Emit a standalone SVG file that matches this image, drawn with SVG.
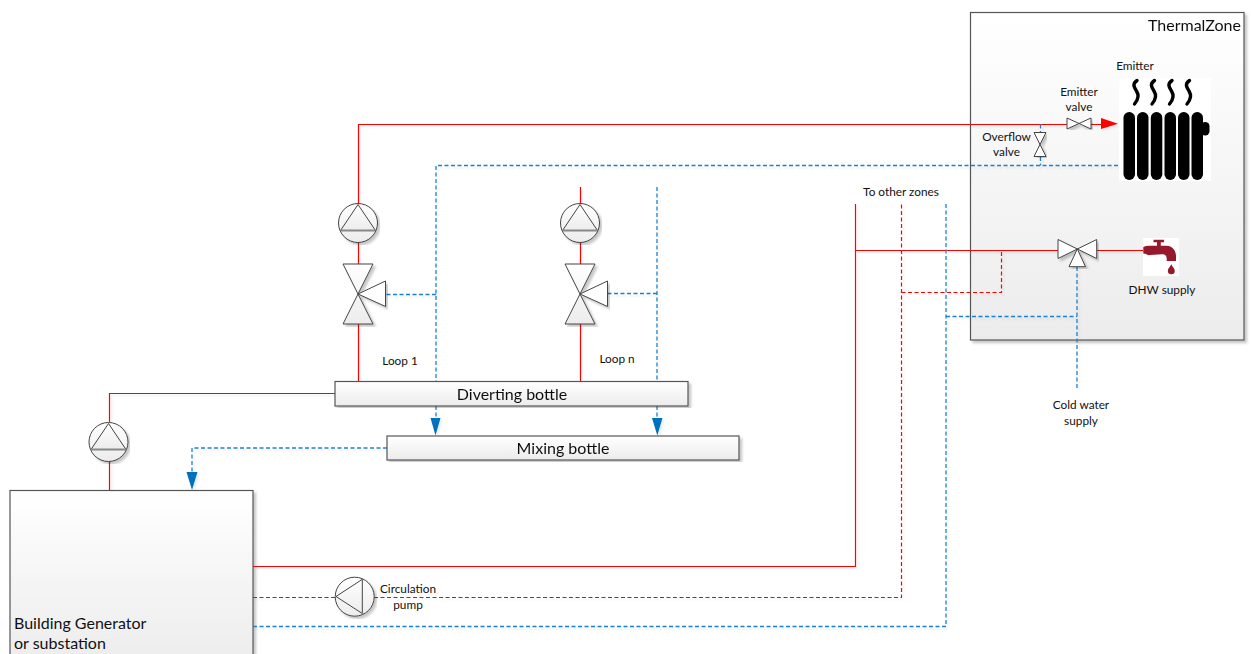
<svg xmlns="http://www.w3.org/2000/svg" width="1251" height="654" viewBox="0 0 1251 654">
<style>
text{font-family:"Lato","Carlito","Open Sans",sans-serif;fill:#111;text-anchor:middle}
.s{font-size:11.8px}.l{font-size:16px}
.box{stroke:#555;stroke-width:1.2;fill:url(#g)}
.r{fill:none;stroke:#f00;stroke-width:1.2}
.rd{fill:none;stroke:#f00;stroke-width:1.2;stroke-dasharray:4 2.5}
.b{fill:none;stroke:#1f80d0;stroke-width:1.3;stroke-dasharray:4 2.5}
.sym{fill:url(#g);stroke:#444;stroke-width:1}
.w{fill:#fff;stroke:#444;stroke-width:1}
.ba{fill:#0070c0}
.tap{fill:#96182c}
</style>
<defs>
<linearGradient id="g" x1="0" y1="0" x2="0" y2="1"><stop offset="0" stop-color="#fff"/><stop offset="1" stop-color="#ececec"/></linearGradient>
<filter id="sh" x="-5%" y="-5%" width="110%" height="110%"><feDropShadow dx="2.500" dy="2.500" stdDeviation="1.200" flood-color="#000" flood-opacity="0.22"/></filter>
<filter id="shl" x="-2%" y="-2%" width="104%" height="104%"><feDropShadow dx="2" dy="2" stdDeviation="0.800" flood-color="#000" flood-opacity="0.08"/></filter>
<g id="pump"><circle cx="0" cy="0" r="19.500" class="sym"/><path d="M0-18.500L17.500 7.500H-17.500Z" class="sym"/><path d="M-17.500 7.500H17.500" stroke="#888" stroke-width="2"/></g>
<g id="valve3"><path d="M-15-30H15L0 0ZM-15 30H15L0 0Z" class="sym"/><path d="M0 0L27.500-13V12.500Z" class="w"/></g>
</defs>

<g id="thermal-zone" filter="url(#sh)"><rect x="970.500" y="12.500" width="273.500" height="327.500" class="box"/><text x="1194.500" y="31" class="l">ThermalZone</text></g>
<g id="generator" filter="url(#sh)"><rect x="10" y="490.500" width="243" height="175" class="box"/></g>

<g id="connectors" filter="url(#shl)">
<path class="r" d="M358.500 205V124.500H1067M1091 124.500H1102"/>
<path class="r" d="M358.500 243V264M358.500 324V382"/>
<path class="r" d="M580.500 187V204M580.500 243V264M580.500 324V382"/>
<path class="r" d="M335 393.500H109.500V422M109.500 462V490"/>
<path class="r" d="M253 566.500H855.500V204M855.500 250.500H1058M1097 250.500H1143"/>
<path class="rd" d="M253 597.500H337M374 597.500H901.500V204M901.500 292.500H1001.500V250.500"/>
<path class="b" d="M1118 165.500H436V382M436 294.500H386M1040.500 124.500V132M1040.500 157V165.500"/>
<path class="b" d="M657 187V382M657 293.500H608"/>
<path class="b" d="M436 406V420M657 406V420"/>
<path class="b" d="M387 448H192V474"/>
<path class="b" d="M253 626.500H946V204M946 316.500H1077M1077 267V390"/>
<path class="ba" d="M430.500 418H440.500L435.500 435.500ZM652 418H662.500L657.300 435.500ZM186.500 472H197.500L192 490Z"/>
<path d="M1101 118L1118 123.700L1101 129Z" fill="#f00"/>
</g>

<g id="pump-loop1" filter="url(#sh)"><use href="#pump" x="358" y="223"/></g>
<g id="valve-loop1" filter="url(#sh)"><use href="#valve3" x="358" y="294"/></g>
<g id="pump-loopn" filter="url(#sh)"><use href="#pump" x="580" y="223"/></g>
<g id="valve-loopn" filter="url(#sh)"><use href="#valve3" x="580" y="294"/></g>
<g id="pump-generator" filter="url(#sh)"><use href="#pump" x="108.500" y="442"/></g>
<g id="pump-circulation" filter="url(#sh)"><circle cx="354.700" cy="596.700" r="19.500" class="sym"/><path d="M336 596.500L362.300 579.300V613.500Z" class="sym"/></g>

<g id="diverting-bottle" filter="url(#sh)"><rect x="335" y="381.500" width="353" height="24.500" class="box"/><text x="512" y="400" class="l">Diverting bottle</text></g>
<g id="mixing-bottle" filter="url(#sh)"><rect x="387" y="436" width="352" height="24" class="box"/><text x="563" y="454" class="l">Mixing bottle</text></g>

<g id="emitter-valve" filter="url(#sh)"><path d="M1067 118V129L1091 118V129Z" class="w"/></g>
<g id="overflow-valve" filter="url(#sh)"><path d="M1034 132.500H1046L1034 156.500H1046Z" class="w"/></g>
<g id="dhw-valve" filter="url(#sh)"><path d="M1058 239.500V258.500L1096.700 239.500V258.500Z" class="w"/><path d="M1077.300 249L1069 266.700H1085.500Z" class="w"/></g>

<g id="emitter">
<rect x="1119" y="78" width="92" height="103" fill="#fff"/>
<path id="heat" d="M1137 80.500C1132 84 1134 87 1136.500 91C1139 95 1138 100 1134.500 104M1154.500 80.500C1149.500 84 1151.500 87 1154 91C1156.500 95 1155.500 100 1152 104M1172 80.500C1167 84 1169 87 1171.500 91C1174 95 1173 100 1169.500 104M1189.500 80.500C1184.500 84 1186.500 87 1189 91C1191.500 95 1190.500 100 1187 104" fill="none" stroke="#000" stroke-width="3.400" stroke-linecap="round"/>
<rect x="1201" y="122" width="8.500" height="13.500" rx="4.200" fill="#000"/>
<g fill="#000"><rect x="1123.500" y="112" width="11.500" height="68" rx="5.700"/><rect x="1137" y="112" width="11.500" height="68" rx="5.700"/><rect x="1150.800" y="112" width="11.500" height="68" rx="5.700"/><rect x="1164.500" y="112" width="11.500" height="68" rx="5.700"/><rect x="1178" y="112" width="11.500" height="68" rx="5.700"/><rect x="1191.500" y="112" width="11.500" height="68" rx="5.700"/></g>
<text x="1135" y="70" class="s">Emitter</text>
</g>

<g id="tap">
<rect x="1143" y="238" width="36" height="38" fill="#fff"/>
<path class="tap" d="M1153.500 239.800H1164V242.300H1160.800V245.700H1166.500C1172 245.700 1176 250.500 1176 256V261H1166.700V258.500C1166.700 255.500 1165 254.300 1162 254.300L1150 255L1148.500 255.300L1146 254L1143.300 253.500V247L1146 246L1149 245.700H1157V242.300H1153.500Z"/>
<path class="tap" d="M1171.300 264.300C1172.700 267.500 1174.800 268.500 1174.800 270.800A3.500 3.500 0 0 1 1167.800 270.800C1167.800 268.500 1169.900 267.500 1171.300 264.300Z"/>
</g>

<g id="labels">
<text class="s"><tspan x="1079" y="96">Emitter</tspan><tspan x="1079" y="111">valve</tspan></text>
<text class="s"><tspan x="1006.500" y="141">Overflow</tspan><tspan x="1006.500" y="156">valve</tspan></text>
<text x="901" y="196" class="s">To other zones</text>
<text x="1162" y="294" class="s">DHW supply</text>
<text x="400" y="365" class="s">Loop 1</text>
<text x="617" y="363" class="s">Loop n</text>
<text class="s"><tspan x="1081" y="409">Cold water</tspan><tspan x="1081" y="425">supply</tspan></text>
<text class="s"><tspan x="408" y="593">Circulation</tspan><tspan x="408" y="609">pump</tspan></text>
<text class="l" style="text-anchor:start"><tspan x="14" y="629">Building Generator</tspan><tspan x="14" y="649">or substation</tspan></text>
</g>
</svg>
